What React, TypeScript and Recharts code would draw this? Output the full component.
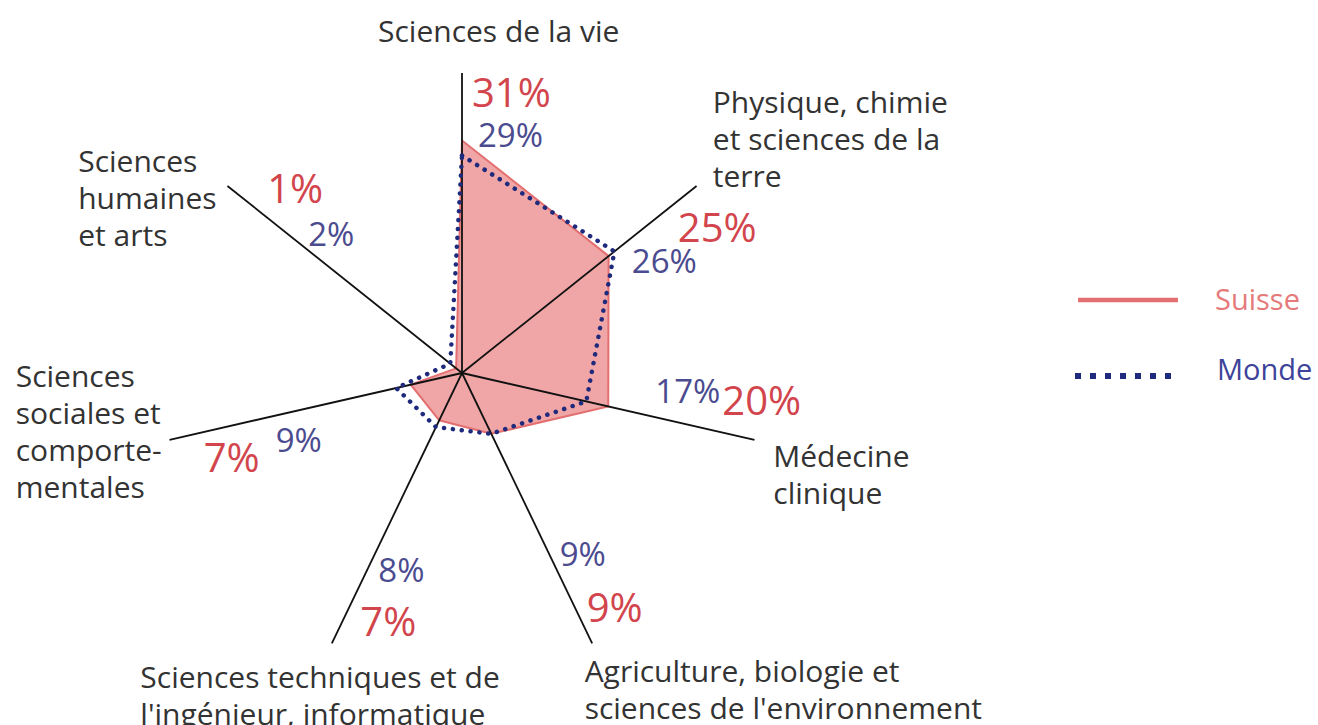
import React from 'react';
import { RadarChart, Radar, PolarGrid, PolarAngleAxis, PolarRadiusAxis, Legend } from 'recharts';

const categories = [
  'Sciences de la vie',
  'Physique, chimie\net sciences de la\nterre',
  'Médecine\nclinique',
  "Agriculture, biologie et\nsciences de l'environnement",
  "Sciences techniques et de\nl'ingénieur, informatique",
  'Sciences\nsociales et\ncomporte-\nmentales',
  'Sciences\nhumaines\net arts',
];
const suisse = [31, 25, 20, 9, 7, 7, 1];
const monde = [29, 26, 17, 9, 8, 9, 2];
const radiusDomain = [0, 40];
const seriesNames = ['Suisse', 'Monde'];

const data = categories.map((c, i) => ({ category: c, suisse: suisse[i], monde: monde[i] }));

// label offsets relative to each axis tick point (layout only)
const labelLayout = [
  { nx: -84, ny: -23, sx: 10, sy: 42, mx: 16, my: 82 },
  { nx: 10, ny: -68, sx: -25, sy: 61, mx: -71, my: 92 },
  { nx: 11, ny: 25, sx: -40, sy: -27, mx: -107, my: -39 },
  { nx: -11, ny: 32, sx: -9, sy: -28, mx: -36, my: -84 },
  { nx: -188, ny: 38, sx: 32, sy: -14, mx: 50, my: -68 },
  { nx: -146, ny: -55, sx: 42, sy: 30, mx: 114, my: 10 },
  { nx: -143, ny: -9, sx: 46, sy: 22, mx: 87, my: 65 },
];

const FONT = '"Open Sans", "Noto Sans", sans-serif';
const TEXT = '#333333';
const RED_TEXT = '#d2454c';
const BLUE_TEXT = '#4b4b8f';
const SUISSE_FILL = '#f0a6a6';
const SUISSE_STROKE = '#e36f70';
const MONDE_STROKE = '#1f2a7c';

const AngleTick = (props: any) => {
  const { x, y, payload, index } = props;
  const i = typeof index === 'number' ? index : payload.index;
  const L = labelLayout[i];
  const lines = String(payload.value).split('\n');
  return (
    <g>
      <text fill={TEXT} fontSize={30} fontFamily={FONT} textAnchor="start">
        {lines.map((ln, k) => (
          <tspan key={k} x={x + L.nx} y={y + L.ny + k * 37}>
            {ln}
          </tspan>
        ))}
      </text>
      <text x={x + L.sx} y={y + L.sy} fill={RED_TEXT} fontSize={40} fontFamily={FONT} textAnchor="start">
        {suisse[i]}%
      </text>
      <text x={x + L.mx} y={y + L.my} fill={BLUE_TEXT} fontSize={33} fontFamily={FONT} textAnchor="start">
        {monde[i]}%
      </text>
    </g>
  );
};

const LegendContent = () => (
  <svg width={258} height={130}>
    <line x1={18} x2={118} y1={30} y2={30} stroke={SUISSE_STROKE} strokeWidth={4.5} />
    <text x={155} y={40} fill="#e57a7b" fontSize={29} fontFamily={FONT}>
      {seriesNames[0]}
    </text>
    <line x1={15} x2={115} y1={106} y2={106} stroke={MONDE_STROKE} strokeWidth={6} strokeDasharray="6 9" />
    <text x={157} y={110} fill="#3d4399" fontSize={29} fontFamily={FONT}>
      {seriesNames[1]}
    </text>
  </svg>
);

export default function App() {
  return (
    <div style={{ position: 'absolute', left: 0, top: 0, width: 1318, height: 725, background: '#fff' }}>
      <RadarChart
        width={1318}
        height={725}
        data={data}
        cx={462}
        cy={373}
        outerRadius={300}
        margin={{ top: 0, right: 0, bottom: 0, left: 0 }}
      >
        <PolarRadiusAxis domain={radiusDomain} tick={false} axisLine={false} />
        <Radar
          name={seriesNames[0]}
          dataKey="suisse"
          stroke={SUISSE_STROKE}
          strokeWidth={2}
          fill={SUISSE_FILL}
          fillOpacity={1}
          isAnimationActive={false}
          zIndex={100}
        />
        <PolarGrid polarRadius={[]} stroke="#111" strokeWidth={1.8} zIndex={150} />
        <Radar
          name={seriesNames[1]}
          dataKey="monde"
          stroke={MONDE_STROKE}
          strokeWidth={4.5}
          strokeDasharray="0.1 8.8"
          strokeLinecap="round"
          fill="none"
          fillOpacity={0}
          isAnimationActive={false}
          zIndex={200}
        />
        <PolarAngleAxis dataKey="category" tick={<AngleTick />} tickLine={false} axisLine={false} />
        <Legend
          layout="vertical"
          align="right"
          verticalAlign="top"
          content={<LegendContent />}
          wrapperStyle={{ position: 'absolute', left: 1060, top: 270, width: 258, height: 130 }}
        />
      </RadarChart>
    </div>
  );
}
